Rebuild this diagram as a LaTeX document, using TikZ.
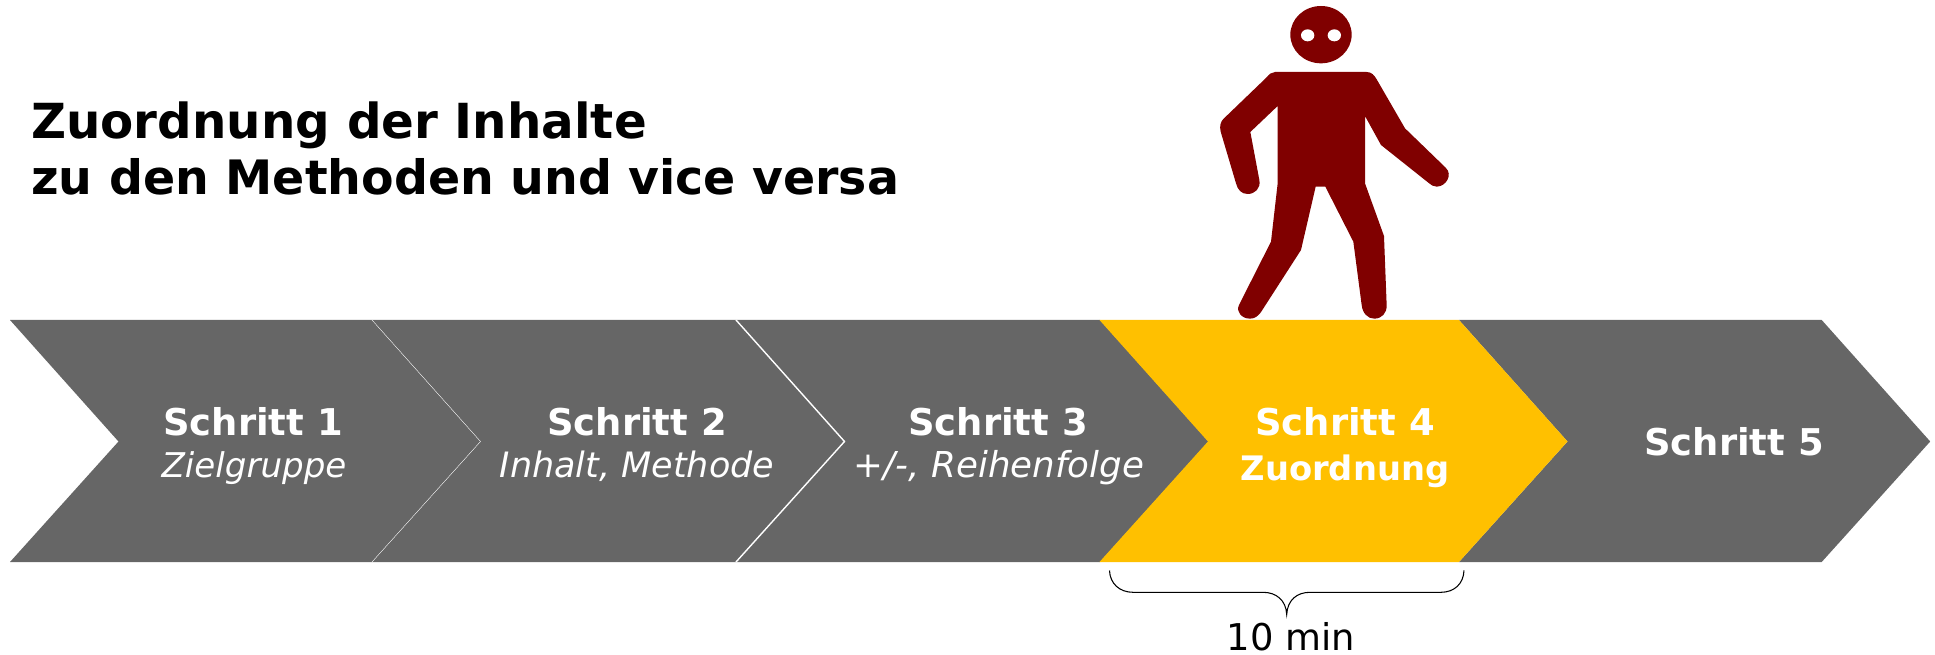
\documentclass[tikz,border=0pt]{standalone}
\usepackage{fontspec}
\setmainfont{DejaVu Sans}
\definecolor{stepgrey}{HTML}{666666}
\definecolor{stepgold}{HTML}{FFC000}
\definecolor{walkred}{HTML}{800000}

\begin{document}
\begin{tikzpicture}
[x=0.02cm,y=-0.02cm,%
  every node/.style={inner sep=0pt,anchor=base},%
  headline/.style={font=\fontsize{27}{32.4}\selectfont\bfseries,align=left,anchor=north west},%
  steplabel/.style={text=white,font=\fontsize{#1}{24}\selectfont\bfseries},%
  steplabel/.default=21,%
  sublabel/.style={text=white,font=\fontsize{#1}{24}\selectfont\itshape},%
  timelabel/.style={font=\fontsize{21}{24}\selectfont},%
  seam/.style={white,line width=#1},%
  bracket/.style={draw=black,line width=0.6pt},%
  walker/.style={fill=walkred}]
\useasboundingbox (0,0) rectangle (1935,655);
\foreach \x/\w/\tint in {10/362/stepgrey,372/364/stepgrey,736/364/stepgrey,1459/362.7/stepgrey,1099.5/359.5/stepgold}
  \fill[\tint] (\x,320) -- ++(\w,0) -- ++(108.5,121.5) -- ++(-108.5,120.5) -- ++(-\w,0) -- ++(108.5,-120.5) -- cycle;
\coordinate (seamatop) at (372,320);
\coordinate (seamamid) at (480.5,441.5);
\coordinate (seamabot) at (372,562);
\coordinate (seambtop) at (736,320);
\coordinate (seambmid) at (844.5,441.5);
\coordinate (seambbot) at (736,562);
\draw[seam=0.2pt] (seamatop) -- (seamamid) -- (seamabot);
\draw[seam=0.8pt] (seambtop) -- (seambmid) -- (seambbot);
\node[headline] (headline) at (31,101) {{\fontsize{27.5}{32.4}\selectfont Zuordnung der Inhalte}\\zu den Methoden und vice versa};
\node[steplabel] (schritteins) at (253,436) {Schritt 1};
\node[sublabel=19.4] (zielgruppe) at (254,477) {Zielgruppe};
\node[steplabel] (schrittzwei) at (637,436) {Schritt 2};
\node[sublabel=19.9] (inhalt) at (637,477) {Inhalt, Methode};
\node[steplabel] (schrittdrei) at (998,436) {Schritt 3};
\node[sublabel=20.3] (reihenfolge) at (999,477) {+/-, Reihenfolge};
\node[steplabel] (schrittvier) at (1345,436) {Schritt 4};
\node[steplabel=19.2] (zuordnung) at (1345,480) {Zuordnung};
\node[steplabel] (schrittfuenf) at (1734,456) {Schritt 5};
\coordinate (braceleft) at (1109.5,570.5);
\coordinate (braceright) at (1464,570.5);
\coordinate (bracetip) at (1286.7,614.5);
\draw[bracket] (braceleft) .. controls (1110,584) and (1120,592.3) .. (1133,592.3)
  -- (1263,592.3) .. controls (1276,592.3) and (1286,600) .. (bracetip)
  .. controls (1287.4,600) and (1297,592.3) .. (1310,592.3)
  -- (1441,592.3) .. controls (1454,592.3) and (1463.5,584) .. (braceright);
\node[timelabel] (dauer) at (1291,650) {10 min};
\begin{scope}[shift={(1205,0)},x=0.00667cm,y=-0.00667cm]
\fill[walker] (348,104) ellipse [x radius=92,y radius=86];
\fill[white] (308,106) ellipse [x radius=20,y radius=18];
\fill[white] (388,106) ellipse [x radius=20,y radius=18];
\fill[walker] (210,216) -- (485,216) .. controls (500,216) and (508,226) .. (515,238)
  -- (600,385) -- (722,503) .. controls (745,525) and (722,560) .. (695,560)
  .. controls (685,560) and (678,555) .. (670,548) -- (528,435) -- (480,348) -- (480,550)
  -- (537,708) -- (545,915) .. controls (546,940) and (530,956) .. (508,956)
  .. controls (488,956) and (473,940) .. (470,915) -- (445,725) -- (361,560) -- (332,560)
  -- (288,750) -- (172,930) .. controls (160,950) and (148,956) .. (135,956)
  .. controls (110,956) and (92,935) .. (102,915) -- (198,725) -- (218,550) -- (218,318)
  -- (136,396) -- (163,540) .. controls (168,565) and (150,582) .. (128,582)
  .. controls (110,582) and (98,570) .. (93,550) -- (47,395) .. controls (43,378) and (47,365) .. (55,357)
  -- (185,232) .. controls (192,223) and (200,216) .. (210,216) -- cycle;
\end{scope}
\end{tikzpicture}
\end{document}
